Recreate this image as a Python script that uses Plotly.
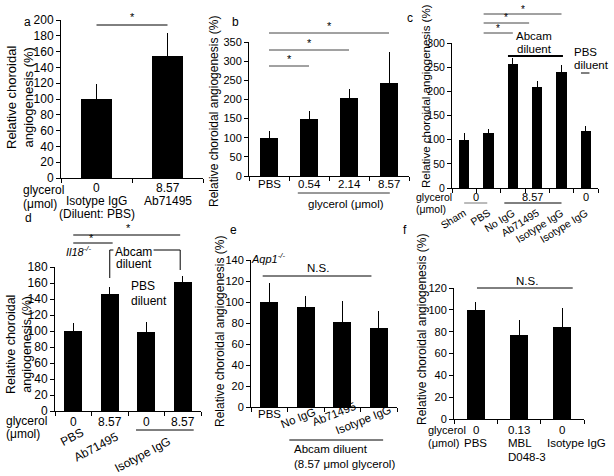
import plotly.graph_objects as go

W, H = 614, 476
FONT = "Arial, Liberation Sans, Helvetica, sans-serif"

# ---------------- data ----------------
a_glycerol = ["0", "8.57"]
a_labels = ["Isotype IgG", "Ab71495"]
a_vals = [100, 154]
a_err = [19, 29]

b_labels = ["PBS", "0.54", "2.14", "8.57"]
b_vals = [100, 148, 205, 243]
b_err = [18, 22, 23, 82]

c_labels = ["Sham", "PBS", "No IgG", "Ab71495", "Isotype IgG", "Isotype IgG"]
c_vals = [100, 114, 256, 209, 239, 117]
c_err = [13, 8, 13, 12, 15, 11]

d_glycerol = ["0", "8.57", "0", "8.57"]
d_labels = ["PBS", "Ab71495", "Isotype IgG"]
d_vals = [100, 146, 99, 161]
d_err = [10, 9, 12, 8]

e_labels = ["PBS", "No IgG", "Ab71495", "Isotype IgG"]
e_vals = [100, 95, 81, 75]
e_err = [18, 11, 20, 16]

f_glycerol = ["0", "0.13", "0"]
f_labels = ["PBS", "MBL", "Isotype IgG"]
f_vals = [100, 77, 84]
f_err = [7, 14, 18]

YTITLE = "Relative choroidal angiogenesis (%)"
YTITLE2 = "Relative choroidal<br>angiogenesis (%)"


def X(px):
    return px / W


def Y(py):
    return 1 - py / H


annotations = []
shapes = []


def text(x, y, s, size=11, xanchor="center", yanchor="middle", angle=0, xref="paper"):
    annotations.append(dict(
        x=X(x) if xref == "paper" else x, y=Y(y), xref=xref, yref="paper",
        text=s, showarrow=False, xanchor=xanchor, yanchor=yanchor,
        textangle=angle, borderpad=0,
        font=dict(size=size, color="black", family=FONT)))


def hline(xref, x0, x1, y, color="black", width=1):
    shapes.append(dict(type="line", xref=xref, yref="paper", x0=x0, x1=x1,
                       y0=Y(y), y1=Y(y), line=dict(color=color, width=width)))


def vline(xref, x, y0, y1, color="black", width=1):
    shapes.append(dict(type="line", xref=xref, yref="paper", x0=x, x1=x,
                       y0=Y(y0), y1=Y(y1), line=dict(color=color, width=width)))


panels = [
    dict(k=1, px=(61, 203), py=(178, 20), ymax=200, dtick=20, vals=a_vals, err=a_err, bw=0.44, fs=12),
    dict(k=2, px=(249, 409), py=(176, 42), ymax=350, dtick=50, vals=b_vals, err=b_err, bw=0.45, fs=11),
    dict(k=3, px=(452, 598), py=(188, 43), ymax=300, dtick=50, vals=c_vals, err=c_err, bw=0.43, fs=10.5),
    dict(k=4, px=(55, 201), py=(411, 267), ymax=180, dtick=20, vals=d_vals, err=d_err, bw=0.5, fs=12),
    dict(k=5, px=(251, 397), py=(407, 260), ymax=140, dtick=20, vals=e_vals, err=e_err, bw=0.49, fs=11),
    dict(k=6, px=(454, 584), py=(419, 288), ymax=120, dtick=20, vals=f_vals, err=f_err, bw=0.41, fs=11),
]

fig = go.Figure()
layout = {}
for p in panels:
    k = p["k"]
    n = len(p["vals"])
    xs = "" if k == 1 else str(k)
    fig.add_trace(go.Bar(
        x=list(range(n)), y=p["vals"], width=p["bw"],
        marker=dict(color="black", line=dict(width=0)),
        error_y=dict(type="data", array=p["err"], symmetric=False,
                     arrayminus=[0] * n, color="black", thickness=1, width=0),
        xaxis="x" + xs, yaxis="y" + xs, showlegend=False, hoverinfo="skip"))
    bounds = [i - 0.5 for i in range(n + 1)]
    xa = dict(domain=[X(p["px"][0]), X(p["px"][1])], range=[-0.5, n - 0.5],
              anchor="y" + xs, showline=True, linecolor="black", linewidth=1,
              ticks="outside", ticklen=4, tickcolor="black",
              tickmode="array", tickvals=bounds, showticklabels=False,
              showgrid=False, zeroline=False, automargin=False)
    ya = dict(domain=[Y(p["py"][0]), Y(p["py"][1])], range=[0, p["ymax"]],
              anchor="x" + xs, showline=True, linecolor="black", linewidth=1,
              ticks="outside", ticklen=4, tickcolor="black", tick0=0, dtick=p["dtick"],
              tickfont=dict(size=p["fs"], color="black", family=FONT),
              showgrid=False, zeroline=False, automargin=False)
    if k == 3:
        xa.update(tickvals=list(range(n)), ticktext=c_labels, ticks="", tickangle=-32,
                  showticklabels=True, ticklabelstandoff=14,
                  tickfont=dict(size=10.5, color="black", family=FONT),
                  minor=dict(tickmode="array", tickvals=bounds, ticks="outside",
                             ticklen=4, tickcolor="black"))
    layout["xaxis" + xs] = xa
    layout["yaxis" + xs] = ya

# ---------------- panel a ----------------
text(27, 22, "a", 12)
text(20, 98, YTITLE2, 13, angle=-90)
hline("x", 0, 1, 25)
text(0.5, 17, "*", 11, xref="x")
text(22, 190, "glycerol", 12, xanchor="left")
text(22, 204, "(μmol)", 12, xanchor="left")
for i, g in enumerate(a_glycerol):
    text(i, 188, g, 12, xref="x")
for i, s in enumerate(a_labels):
    text(i, 201, s, 12, xref="x")
text(0, 214, "(Diluent: PBS)", 12, xref="x")

# ---------------- panel b ----------------
text(235, 22, "b", 12)
text(214, 112, YTITLE, 12, angle=-90)
for i, s in enumerate(b_labels):
    text(i, 184, s, 11.5, xref="x2")
hline("x2", 0.72, 3.02, 193, color="#333")
text(346, 204, "glycerol (μmol)", 11.5)
for (x1, yl, ys) in [(3, 33, 26), (2, 50, 43), (1, 66, 59)]:
    hline("x2", 0, x1, yl, color="#444")
    text(x1 / 2, ys, "*", 11, xref="x2")

# ---------------- panel c ----------------
text(410, 18, "c", 12)
text(426, 96, YTITLE, 11.5, angle=-90)
text(415, 197, "glycerol", 10.5, xanchor="left")
text(415, 209, "(μmol)", 10.5, xanchor="left")
text(0.5, 197, "0", 11, xref="x3")
hline("x3", 0.0, 0.95, 203, color="#777")
text(2.8, 197, "8.57", 11, xref="x3")
hline("x3", 1.65, 4.0, 203)
text(5, 197, "0", 11, xref="x3")
text(534, 36, "Abcam", 11.5)
text(534, 49, "diluent", 11.5)
hline("x3", 1.8, 4.06, 56, width=2)
text(573, 52, "PBS", 11.5, xanchor="left")
text(573, 65, "diluent", 11.5, xanchor="left")
hline("x3", 4.8, 5.15, 73)
for (x1, yl, xs_, ys) in [(4.0, 14, 2.4, 9), (2.67, 23, 1.73, 18), (2.0, 33, 1.4, 28)]:
    hline("x3", 0.8, x1, yl, color="#444")
    text(xs_, ys, "*", 10, xref="x3")

# ---------------- panel d ----------------
text(28, 218, "d", 12)
text(19, 345, YTITLE2, 12.5, angle=-90)
hline("x4", 0, 2.93, 235)
text(1.5, 228, "*", 11, xref="x4")
hline("x4", 0, 1.08, 243)
text(0.5, 238, "*", 11, xref="x4")
text(78, 251, "<i>Il18<sup>-/-</sup></i>", 11)
vline("x4", 1, 250, 278)
hline("x4", 1, 1.1, 250)
hline("x4", 2.2, 2.93, 250)
vline("x4", 2.93, 250, 270)
text(133, 252, "Abcam", 12)
text(134, 264, "diluent", 12)
text(130, 286, "PBS", 12, xanchor="left")
text(130, 301, "diluent", 12, xanchor="left")
text(5, 421, "glycerol", 12, xanchor="left")
text(5, 434, "(μmol)", 12, xanchor="left")
for i, g in enumerate(d_glycerol):
    text(i, 422, g, 12, xref="x4")
hline("x4", 1.72, 3.3, 430)
for (cx, cy), s in zip([(72, 437), (96, 447), (142, 455)], d_labels):
    text(cx, cy, s, 12, angle=-28)

# ---------------- panel e ----------------
text(233, 230, "e", 12)
text(220, 332, YTITLE, 12, angle=-90)
text(268, 258, "<i>Aqp1<sup>-/-</sup></i>", 11)
text(318, 268, "N.S.", 11.5)
hline("x5", -0.18, 2.8, 276)
text(0, 414, e_labels[0], 11.5, xref="x5")
for (cx, cy), s in zip([(298, 418), (334, 414), (363, 420)], e_labels[1:]):
    text(cx, cy, s, 11.5, angle=-22)
hline("x5", 0.55, 3.12, 440)
text(293, 449, "Abcam diluent", 11.5, xanchor="left")
text(293, 464, "(8.57 μmol glycerol)", 11.5, xanchor="left")

# ---------------- panel f ----------------
text(405, 230, "f", 12)
text(422, 330, YTITLE, 12, angle=-90)
text(527, 281, "N.S.", 11.5)
hline("x6", 0.03, 2.24, 288)
text(427, 430, "glycerol", 11, xanchor="left")
text(427, 443, "(μmol)", 11, xanchor="left")
for i, g in enumerate(f_glycerol):
    text(i, 430, g, 11.5, xref="x6")
text(0, 443, f_labels[0], 11.5, xref="x6")
text(507, 443, f_labels[1], 11.5, xanchor="left")
text(507, 457, "D048-3", 11.5, xanchor="left")
text(576, 443, f_labels[2], 11.5)

fig.update_layout(
    width=W, height=H, margin=dict(l=0, r=0, t=0, b=0),
    paper_bgcolor="white", plot_bgcolor="white",
    font=dict(family=FONT, color="black"),
    annotations=annotations, shapes=shapes, showlegend=False, bargap=0,
    **layout)

fig.write_html("out.html", config={"displayModeBar": False},
               post_script="document.body.style.margin='0px';document.body.style.overflow='hidden';")
